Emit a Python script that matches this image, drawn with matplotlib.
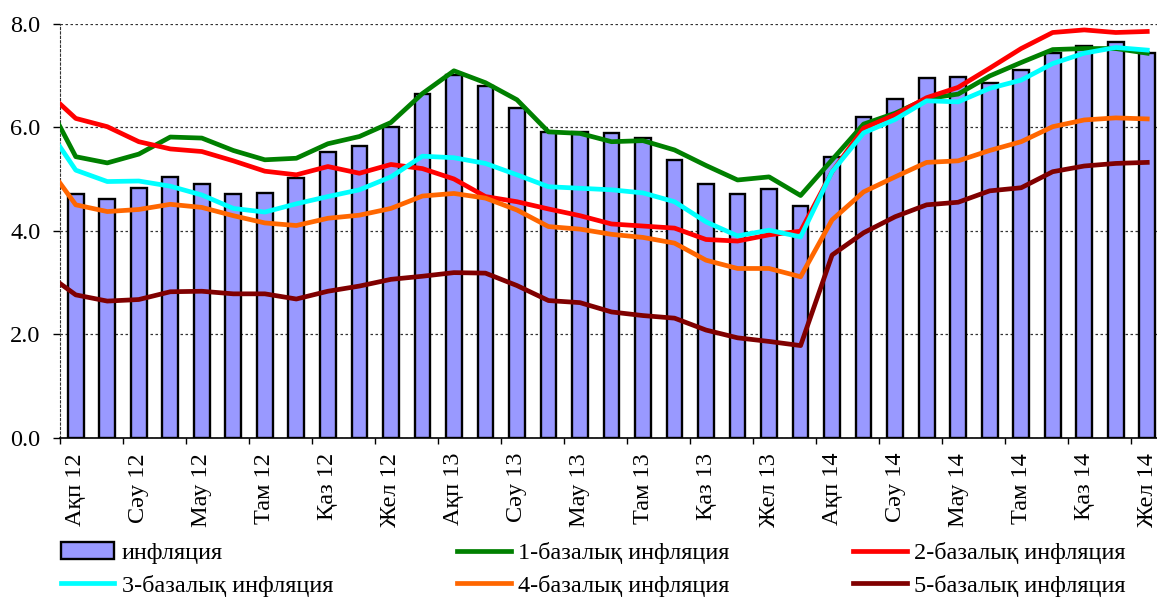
import numpy as np
import matplotlib
matplotlib.use("Agg")
import matplotlib.pyplot as plt
from matplotlib.ticker import FixedLocator, FormatStrFormatter

plt.rcParams['font.family'] = ['Liberation Serif', 'DejaVu Serif']

# Feb 2012 .. Dec 2014 (labels every 2nd month)
months = ["Ақп", "Нау", "Сәу", "Мам", "Мау", "Шіл", "Там", "Қыр", "Қаз", "Қар", "Жел", "Қаң"]
years = ["12"] * 11 + ["13"] * 12 + ["14"] * 12
labels = [months[i % 12] + " " + years[i] for i in range(35)]

inflation = [4.71, 4.61, 4.82, 5.03, 4.91, 4.70, 4.72, 5.02, 5.52, 5.63, 6.01,
             6.64, 7.00, 6.80, 6.38, 5.90, 5.90, 5.89, 5.80, 5.37, 4.91, 4.70, 4.80,
             4.48, 5.42, 6.20, 6.55, 6.95, 6.97, 6.86, 7.10, 7.43, 7.56, 7.65, 7.44]

# lines carry one extra month in front (Jan 12), cut at the axis edge
core1 = [6.59, 5.43, 5.31, 5.48, 5.81, 5.79, 5.55, 5.37, 5.40, 5.68, 5.82, 6.09,
         6.65, 7.09, 6.86, 6.53, 5.91, 5.88, 5.72, 5.74, 5.56, 5.26, 4.98, 5.04,
         4.68, 5.37, 6.06, 6.27, 6.55, 6.64, 6.99, 7.25, 7.50, 7.52, 7.52, 7.43]
core2 = [6.73, 6.17, 6.01, 5.72, 5.58, 5.53, 5.35, 5.15, 5.08, 5.24, 5.11, 5.28,
         5.20, 5.00, 4.66, 4.56, 4.42, 4.29, 4.13, 4.09, 4.05, 3.83, 3.80, 3.92,
         3.99, 5.14, 5.98, 6.24, 6.57, 6.77, 7.14, 7.52, 7.83, 7.88, 7.83, 7.85]
core3 = [6.07, 5.17, 4.95, 4.96, 4.86, 4.69, 4.43, 4.36, 4.52, 4.66, 4.79, 5.04,
         5.44, 5.41, 5.30, 5.08, 4.85, 4.82, 4.79, 4.73, 4.56, 4.17, 3.90, 4.01,
         3.88, 5.14, 5.89, 6.15, 6.51, 6.49, 6.75, 6.91, 7.23, 7.43, 7.54, 7.49]
core4 = [5.34, 4.50, 4.37, 4.41, 4.51, 4.45, 4.29, 4.15, 4.10, 4.24, 4.30, 4.43,
         4.67, 4.72, 4.63, 4.40, 4.08, 4.03, 3.93, 3.87, 3.76, 3.43, 3.27, 3.27,
         3.11, 4.21, 4.75, 5.04, 5.32, 5.35, 5.55, 5.72, 6.01, 6.14, 6.18, 6.16]
core5 = [3.20, 2.76, 2.64, 2.67, 2.82, 2.83, 2.78, 2.78, 2.68, 2.83, 2.93, 3.06,
         3.12, 3.19, 3.18, 2.94, 2.65, 2.61, 2.43, 2.36, 2.31, 2.08, 1.93, 1.86,
         1.78, 3.53, 3.96, 4.27, 4.50, 4.55, 4.77, 4.83, 5.14, 5.25, 5.30, 5.32]

series = [
    ("1-базалық инфляция", core1, "#008000"),
    ("2-базалық инфляция", core2, "#ff0000"),
    ("3-базалық инфляция", core3, "#00ffff"),
    ("4-базалық инфляция", core4, "#ff6600"),
    ("5-базалық инфляция", core5, "#800000"),
]

#%%
fs = 17.5
fig = plt.figure(figsize=(11.57, 5.99), dpi=100)
ax = fig.add_axes([60 / 1157, 1 - 437.7 / 599, 1103 / 1157, 414 / 599])

x = np.arange(len(inflation))
bars = ax.bar(x, inflation, width=0.5, color="#9999ff", edgecolor="black",
              linewidth=1.7, label="инфляция", zorder=2)

lines = []
xl = np.arange(-1, len(inflation))
for name, vals, col in series:
    ln, = ax.plot(xl, vals, color=col, lw=3.4, label=name, zorder=3,
                  solid_joinstyle="round")
    lines.append(ln)

ax.set_xlim(-0.5, len(inflation) - 0.5)
ax.set_ylim(0, 8)

ax.set_yticks([0, 2, 4, 6, 8])
ax.yaxis.set_major_formatter(FormatStrFormatter("%.1f"))
ax.yaxis.grid(True, linestyle=(0, (2, 2)), color="#333333", lw=0.9)
ax.set_axisbelow(True)

ax.xaxis.set_major_locator(FixedLocator(x[::2]))
ax.set_xticklabels(labels[::2], rotation=90, va="top", ha="center")
ax.xaxis.set_minor_locator(FixedLocator(np.arange(-0.5, len(inflation), 2)))
ax.tick_params(axis="x", which="major", length=0, pad=11, labelsize=fs)
ax.tick_params(axis="x", which="minor", length=4, direction="out", width=1)
ax.tick_params(axis="y", length=5, direction="out", width=1, pad=9, labelsize=fs)

for s in ["top", "right"]:
    ax.spines[s].set_visible(False)
ax.spines["left"].set_linestyle((0, (2, 2)))
ax.spines["left"].set_color("#333333")
ax.spines["bottom"].set_linewidth(1.2)

handles = [bars] + lines
order = [0, 3, 1, 4, 2, 5]
fig.legend([handles[i] for i in order], [handles[i].get_label() for i in order],
           ncol=3, loc="upper left", bbox_to_anchor=(61 / 1157, 1 - 542 / 599),
           frameon=False, fontsize=fs, handlelength=2.2, handletextpad=0.3,
           columnspacing=5.1, labelspacing=0.45, borderpad=0, borderaxespad=0)

fig.savefig("out.png", dpi=100)
